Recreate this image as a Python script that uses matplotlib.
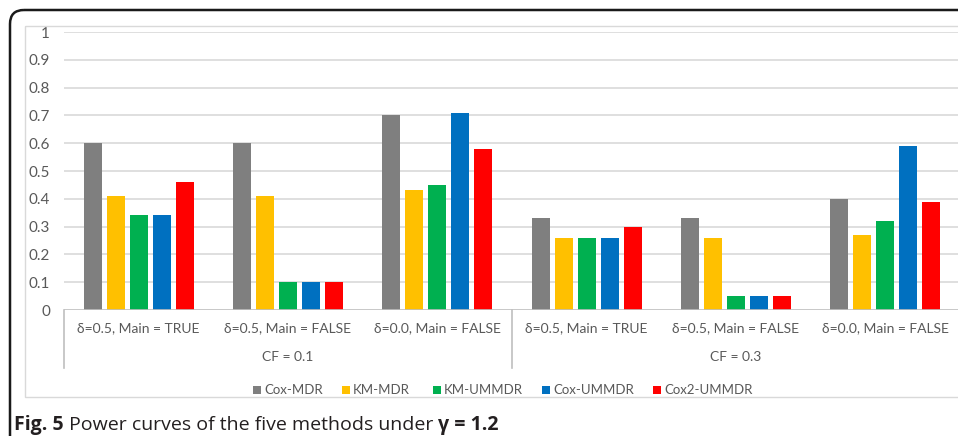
import matplotlib
matplotlib.use("Agg")
import matplotlib.pyplot as plt
import numpy as np
from matplotlib.patches import FancyBboxPatch, Rectangle
from matplotlib.lines import Line2D
from matplotlib.transforms import Affine2D, blended_transform_factory

# ---- data ----
scenarios = ["δ=0.5, Main = TRUE", "δ=0.5, Main = FALSE", "δ=0.0, Main = FALSE",
             "δ=0.5, Main = TRUE", "δ=0.5, Main = FALSE", "δ=0.0, Main = FALSE"]
cf_groups = ["CF = 0.1", "CF = 0.3"]
methods = ["Cox-MDR", "KM-MDR", "KM-UMMDR", "Cox-UMMDR", "Cox2-UMMDR"]
cox_mdr = [0.60, 0.60, 0.70, 0.33, 0.33, 0.40]
km_mdr = [0.41, 0.41, 0.43, 0.26, 0.26, 0.27]
km_ummdr = [0.34, 0.10, 0.45, 0.26, 0.05, 0.32]
cox_ummdr = [0.34, 0.10, 0.71, 0.26, 0.05, 0.59]
cox2_ummdr = [0.46, 0.10, 0.58, 0.30, 0.05, 0.39]
yticks = [0, 0.1, 0.2, 0.3, 0.4, 0.5, 0.6, 0.7, 0.8, 0.9, 1]
ytick_labels = ["0", "0.1", "0.2", "0.3", "0.4", "0.5", "0.6", "0.7", "0.8", "0.9", "1"]

series = [cox_mdr, km_mdr, km_ummdr, cox_ummdr, cox2_ummdr]
colors = ["#7F7F7F", "#FFC000", "#00B050", "#0070C0", "#FF0000"]

W, H = 958, 436
fig = plt.figure(figsize=(W / 100, H / 100), dpi=100)
fig.patch.set_facecolor("white")

# pixel (origin top-left) -> figure coordinates
px = Affine2D().scale(1 / W, -1 / H).translate(0, 1) + fig.transFigure

def fy(y):
    return 1 - y / H

TXT = "#595959"
FONT = ["Lato", "DejaVu Sans"]

# outer rounded frame and inner chart border
fig.add_artist(FancyBboxPatch((10, 10), 1100, 600, boxstyle="round,pad=0,rounding_size=14",
                              transform=px, fill=False, edgecolor="#1a1a1a", linewidth=1.8))
fig.add_artist(Rectangle((25, 26), 1000, 371, transform=px, fill=False,
                         edgecolor="#D9D9D9", linewidth=1.0))

x0, x1, y0, y1 = 64, 960, 310, 32
ax = fig.add_axes([x0 / W, fy(y0), (x1 - x0) / W, (y0 - y1) / H])
ax.set_xlim(0, 6)
ax.set_ylim(0, 1)
for s in ax.spines.values():
    s.set_visible(False)
ax.set_facecolor("none")

ax.set_yticks(yticks)
ax.set_yticklabels(ytick_labels, fontsize=11, color=TXT, family=FONT)
ax.tick_params(axis="y", length=0, pad=10)
ax.set_xticks([])
for t in yticks[1:]:
    ax.axhline(t, color="#D9D9D9", linewidth=1.2, zorder=0)
ax.axhline(0, color="#BFBFBF", linewidth=1.2, zorder=3)

centers = np.arange(len(scenarios)) + 0.5
step, width = 0.154, 0.121
for j, (vals, c) in enumerate(zip(series, colors)):
    ax.bar(centers + (j - 2) * step, vals, width=width, color=c, zorder=2)

bt = blended_transform_factory(ax.transData, fig.transFigure)
for xc, lab in zip(centers, scenarios):
    ax.text(xc, fy(328), lab, transform=bt, ha="center", va="center",
            fontsize=10, color=TXT, family=FONT)
for g, lab in enumerate(cf_groups):
    ax.text(1.5 + 3 * g, fy(357), lab, transform=bt, ha="center", va="center",
            fontsize=10, color=TXT, family=FONT)
for xv in [0, 3, 6]:
    ax.add_line(Line2D([xv, xv], [fy(310), fy(368)], transform=bt, color="#BFBFBF",
                       linewidth=1.2, clip_on=False))

# legend: coloured squares followed by method names
legend_x = [253, 342, 433, 542, 653]
for lx, name, c in zip(legend_x, methods, colors):
    fig.add_artist(Rectangle((lx, 386), 8, 8, transform=px, facecolor=c, edgecolor="none"))
    fig.text((lx + 11) / W, fy(390), name, fontsize=9.5, color=TXT, family=FONT,
             ha="left", va="center")

# caption with mixed weights
renderer = fig.canvas.get_renderer()
cap_parts = [("Fig. 5", "bold"), (" Power curves of the five methods under ", "normal"),
             ("γ = 1.2", "bold")]
xc = 14 / W
for txt, wt in cap_parts:
    t = fig.text(xc, fy(430), txt, fontsize=14, weight=wt, color="#231F20",
                 family=["Open Sans", "DejaVu Sans"], ha="left", va="baseline")
    bb = t.get_window_extent(renderer=renderer)
    xc += bb.width / W

fig.savefig("out.png", dpi=100)
